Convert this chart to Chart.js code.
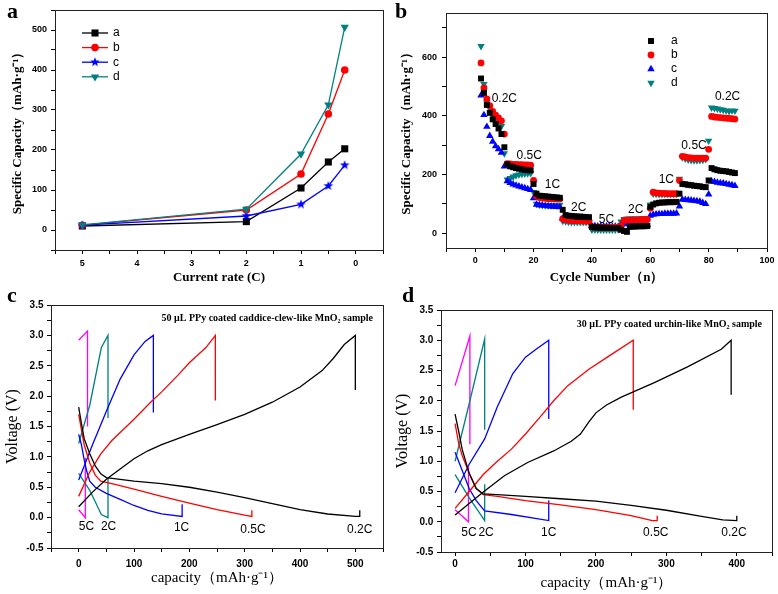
<!DOCTYPE html>
<html>
<head>
<meta charset="utf-8">
<script src="https://cdn.jsdelivr.net/npm/chart.js@4.4.0/dist/chart.umd.min.js"></script>
<style>
  body { margin: 0; background: #fff; width: 778px; height: 594px; position: relative; overflow: hidden; }
  canvas { position: absolute; }
  .tag { position: absolute; font: bold 22px "Liberation Serif", "Times New Roman", serif; line-height: 22px; color: #000; }
</style>
</head>
<body>
<canvas id="chart-a" width="389" height="290" style="left:0;top:0"></canvas>
<canvas id="chart-b" width="389" height="290" style="left:389px;top:0"></canvas>
<canvas id="chart-c" width="389" height="304" style="left:0;top:290px"></canvas>
<canvas id="chart-d" width="389" height="304" style="left:389px;top:290px"></canvas>
<div class="tag" style="left:7px;top:0">a</div>
<div class="tag" style="left:395px;top:0">b</div>
<div class="tag" style="left:7px;top:284px">c</div>
<div class="tag" style="left:402px;top:284px">d</div>
<script>
// ---- panel a: capacity vs current rate ----
const aRates = [5, 2, 1, 0.5, 0.2];
const aValsA = [10, 21, 105, 170, 203];
const aValsB = [12, 50, 140, 290, 400];
const aValsC = [12, 35, 64, 110, 162];
const aValsD = [13, 52, 190, 313, 507];
const aXLabels = [0, 1, 2, 3, 4, 5];
const aYLabels = [0, 100, 200, 300, 400, 500];

// ---- panel b: rate cycling (cycles 2..89) ----
const bFirstCycle = 2;
const bValsA = [527,478,437,410,388,372,357,338,293,235,228,225,222,220,218,216,215,214,168,135,128,127,126,125,124,123,122,121,80,62,60,59,58,57,57,56,55,55,22,20,20,19,19,19,18,18,18,18,12,8,5,22,23,23,24,24,24,25,90,98,102,104,105,105,106,106,106,107,135,168,167,165,164,162,161,160,158,157,180,222,218,215,213,212,211,209,207,205];
const bValsB = [580,495,458,435,415,402,393,383,338,237,236,235,235,234,234,233,233,232,180,127,122,120,119,118,118,117,117,117,50,46,45,44,44,43,43,42,42,42,22,21,21,21,20,20,20,20,20,20,25,44,45,45,46,46,46,47,47,47,85,140,138,137,136,136,135,135,135,135,180,262,260,258,257,256,256,256,256,256,286,398,396,395,394,393,392,391,390,389];
const bValsC = [470,403,363,332,312,297,287,275,228,178,172,167,163,160,157,154,151,148,120,98,96,95,94,93,92,91,90,89,50,44,43,42,42,41,41,40,40,40,25,25,24,24,24,24,24,23,23,23,28,32,31,31,30,30,30,29,29,29,60,64,65,66,66,67,67,67,67,68,92,115,114,113,112,111,110,108,104,100,133,177,175,173,171,170,168,166,164,162];
const bValsD = [637,508,445,425,402,393,380,365,272,183,188,193,197,200,202,203,204,205,140,100,97,96,95,95,95,95,96,97,42,40,39,38,38,38,38,38,38,38,12,12,12,12,12,12,12,12,12,13,40,48,50,50,50,50,50,50,50,51,98,135,134,133,133,133,133,133,133,134,185,258,254,251,249,248,248,249,250,252,315,428,426,424,422,420,418,416,418,417];
const bRateText = ['0.2C', '0.5C', '1C', '2C', '5C', '2C', '1C', '0.5C', '0.2C'];
const bRateX = [10, 18.5, 26.5, 35.5, 45, 55, 65.5, 75, 86.5];
const bRateY = [457, 263, 167, 88, 48, 82, 181, 298, 465];
const bXLabels = [0, 20, 40, 60, 80, 100];
const bYLabels = [0, 200, 400, 600];

// ---- panel c: charge / discharge curves, 50 uL sample ----
const cDis02 = [[0,1.82],[5,1.55],[10,1.3],[20,1.05],[30,0.85],[40,0.72],[50,0.66],[100,0.6],[150,0.56],[200,0.5],[250,0.42],[300,0.33],[350,0.23],[400,0.13],[450,0.06],[500,0.02],[508,0.02],[508,0.12]];
const cCh02 = [[0,0.18],[25,0.42],[50,0.63],[75,0.8],[100,0.97],[125,1.1],[150,1.2],[200,1.37],[250,1.53],[300,1.7],[350,1.9],[400,2.15],[440,2.42],[460,2.62],[480,2.85],[500,3.0],[500,2.1]];
const cDis05 = [[0,1.7],[5,1.45],[10,1.2],[20,0.9],[30,0.7],[40,0.6],[60,0.56],[100,0.47],[150,0.35],[200,0.24],[250,0.13],[300,0.04],[313,0.02],[313,0.12]];
const cCh05 = [[0,0.35],[20,0.75],[40,1.05],[60,1.27],[100,1.62],[130,1.9],[150,2.07],[180,2.35],[200,2.55],[230,2.8],[247,3.0],[247,1.93]];
const cDis1 = [[0,1.37],[5,1.2],[10,0.95],[15,0.75],[20,0.6],[30,0.5],[50,0.4],[75,0.3],[100,0.2],[125,0.12],[150,0.06],[187,0.02],[187,0.22]];
const cCh1 = [[0,0.62],[10,0.85],[25,1.2],[50,1.75],[75,2.28],[100,2.68],[120,2.9],[135,3.0],[135,1.73]];
const cDis2 = [[0,0.73],[20,0.45],[41,0.05],[53,0.0],[53,0.65]];
const cCh2 = [[0,1.22],[20,1.85],[41,2.8],[53,3.0],[53,1.64]];
const cDis5 = [[0,0.13],[12,0.0],[12,0.98]];
const cCh5 = [[0,2.92],[16,3.07],[16,1.5]];
const cRateText = ['5C', '2C', '1C', '0.5C', '0.2C'];
const cRateX = [14, 54, 186, 315, 508];
const cRateY = [-0.15, -0.15, -0.17, -0.2, -0.2];

// ---- panel d: charge / discharge curves, 30 uL sample ----
const dDis02 = [[0,1.78],[5,1.5],[10,1.2],[20,0.8],[30,0.55],[40,0.46],[60,0.45],[100,0.42],[150,0.38],[200,0.34],[250,0.27],[300,0.19],[350,0.09],[380,0.03],[400,0.02],[400,0.1]];
const dCh02 = [[0,0.11],[20,0.3],[41,0.5],[70,0.76],[103,0.98],[140,1.17],[165,1.33],[178,1.45],[190,1.65],[200,1.8],[215,1.93],[236,2.06],[283,2.3],[330,2.56],[378,2.85],[392,3.0],[392,2.1]];
const dDis05 = [[0,1.62],[5,1.3],[10,1.1],[20,0.8],[30,0.55],[40,0.45],[60,0.42],[100,0.35],[150,0.28],[200,0.2],[250,0.1],[280,0.02],[287,0.02],[287,0.1]];
const dCh05 = [[0,0.22],[20,0.5],[40,0.78],[60,1.0],[80,1.2],[100,1.45],[120,1.72],[140,2.0],[160,2.25],[190,2.52],[220,2.75],[253,3.0],[253,1.85]];
const dDis1 = [[0,1.15],[10,0.85],[20,0.55],[30,0.35],[42,0.18],[80,0.12],[133,0.02],[133,0.35]];
const dCh1 = [[0,0.48],[20,0.95],[42,1.37],[60,1.9],[82,2.45],[100,2.72],[115,2.85],[133,3.0],[133,1.7]];
const dDis2 = [[0,0.78],[20,0.4],[42,0.02],[42,0.62]];
const dCh2 = [[0,1.0],[20,1.95],[42,3.02],[42,1.52]];
const dDis5 = [[0,0.2],[19,0.0],[19,0.9]];
const dCh5 = [[0,2.25],[21,3.07],[21,1.28]];
const dRateText = ['5C', '2C', '1C', '0.5C', '0.2C'];
const dRateX = [19.6, 44, 133, 285, 396];
const dRateY = [-0.18, -0.18, -0.18, -0.18, -0.18];
const vLabels = [-0.5, 0, 0.5, 1, 1.5, 2, 2.5, 3, 3.5];

const SANS = '"Liberation Sans", Arial, sans-serif';
const SERIF = '"Liberation Serif", "Times New Roman", serif';
const TEAL = '#008080';

Chart.defaults.font.family = SANS;
Chart.defaults.color = '#000';

function starImg(color, r) {
  const c = document.createElement('canvas');
  const s = Math.ceil(r * 2 + 2);
  c.width = c.height = s;
  const g = c.getContext('2d');
  g.fillStyle = color;
  g.beginPath();
  for (let i = 0; i < 10; i++) {
    const rad = i % 2 ? r * 0.42 : r;
    const ang = -Math.PI / 2 + i * Math.PI / 5;
    g.lineTo(s / 2 + rad * Math.cos(ang), s / 2 + rad * Math.sin(ang));
  }
  g.closePath();
  g.fill();
  return c;
}

// legend marker, same shapes as Chart.js point styles
function marker(ctx, style, rot, x, y, r, color) {
  ctx.fillStyle = color;
  if (style instanceof HTMLCanvasElement) { ctx.drawImage(style, x - style.width / 2, y - style.height / 2); return; }
  ctx.beginPath();
  if (style === 'rect') {
    const s = r * Math.SQRT1_2;
    ctx.rect(x - s, y - s, 2 * s, 2 * s);
  } else if (style === 'circle') {
    ctx.arc(x, y, r, 0, Math.PI * 2);
  } else {
    let a = (rot || 0) * Math.PI / 180;
    for (let i = 0; i < 3; i++) {
      ctx.lineTo(x + Math.sin(a) * r, y - Math.cos(a) * r);
      a += Math.PI * 2 / 3;
    }
    ctx.closePath();
  }
  ctx.fill();
}

function tickList(min, max, step) {
  const out = [];
  for (let v = Math.ceil(min / step - 1e-9) * step; v <= max + 1e-9; v += step) out.push({ value: +v.toFixed(4) });
  return out;
}

function axis(o) {
  return {
    type: 'linear', min: o.min, max: o.max, reverse: !!o.reverse,
    afterBuildTicks: s => { s.ticks = tickList(o.min, o.max, o.step); },
    afterFit: s => { if (o.w) s.width = o.w; if (o.h) s.height = o.h; },
    grid: { drawOnChartArea: false, color: '#000', tickColor: '#000', tickLength: 4, tickWidth: 1 },
    border: { color: '#222', width: 1 },
    ticks: {
      color: '#000', autoSkip: false, maxRotation: 0, padding: o.pad,
      font: { family: SANS, size: o.tickSize, weight: 'bold' },
      callback: v => o.labels.some(l => Math.abs(l - v) < 1e-6) ? o.fmt(v) : ''
    },
    title: { display: true, text: o.title, color: '#000', font: o.titleFont, padding: o.titlePad }
  };
}

const frame = {
  id: 'frame',
  afterDraw(chart) {
    const { ctx, chartArea: a } = chart;
    ctx.save();
    ctx.strokeStyle = '#222';
    ctx.lineWidth = 1;
    ctx.strokeRect(Math.round(a.left) + 0.5, Math.round(a.top) + 0.5, Math.round(a.right - a.left), Math.round(a.bottom - a.top));
    ctx.restore();
  }
};

// text placed at data coordinates
function notes(texts, xs, ys, font) {
  return {
    id: 'notes',
    afterDatasetsDraw(chart) {
      const { ctx, scales: { x, y } } = chart;
      ctx.save();
      ctx.font = font;
      ctx.fillStyle = '#000';
      ctx.textAlign = 'center';
      ctx.textBaseline = 'middle';
      texts.forEach((t, i) => ctx.fillText(t, x.getPixelForValue(xs[i]), y.getPixelForValue(ys[i])));
      ctx.restore();
    }
  };
}

function legend(items, opts) {
  return {
    id: 'legendBox',
    afterDraw(chart) {
      const ctx = chart.ctx;
      ctx.save();
      ctx.font = '12px ' + SANS;
      ctx.textBaseline = 'middle';
      items.forEach((it, i) => {
        const y = opts.y0 + i * opts.dy;
        if (opts.line) {
          ctx.strokeStyle = it.color; ctx.lineWidth = 1.3;
          ctx.beginPath(); ctx.moveTo(opts.x0, y); ctx.lineTo(opts.x1, y); ctx.stroke();
        }
        marker(ctx, it.style, it.rot, opts.mx, y, it.r, it.color);
        ctx.fillStyle = '#000';
        ctx.fillText(it.label, opts.tx, y);
      });
      ctx.restore();
    }
  };
}

const boldTitle = { family: SERIF, size: 13, weight: 'bold' };
const capTitle = 'Specific Capacity（mAh·g⁻¹）';

// ---------- a ----------
const blueStarA = starImg('#0000ff', 5);
const aSeries = [
  { label: 'a', vals: aValsA, color: '#000', style: 'rect', r: 5 },
  { label: 'b', vals: aValsB, color: '#ff0000', style: 'circle', r: 3.8 },
  { label: 'c', vals: aValsC, color: '#0000ff', style: blueStarA, r: 5 },
  { label: 'd', vals: aValsD, color: TEAL, style: 'triangle', rot: 180, r: 4.8 }
];
new Chart(document.getElementById('chart-a'), {
  type: 'scatter',
  data: {
    datasets: aSeries.map(s => ({
      label: s.label,
      data: aRates.map((x, i) => ({ x, y: s.vals[i] })),
      showLine: true, borderColor: s.color, borderWidth: 1.3,
      pointStyle: s.style, pointRotation: s.rot || 0, pointRadius: s.r,
      pointBackgroundColor: s.color, pointBorderWidth: 0
    })).reverse()
  },
  options: {
    responsive: false, animation: false, devicePixelRatio: 1,
    layout: { padding: { left: 0, right: 6, top: 10, bottom: 1 } },
    plugins: { legend: { display: false }, tooltip: { enabled: false } },
    scales: {
      x: axis({ min: -0.5, max: 5.5, reverse: true, step: 0.5, labels: aXLabels, fmt: v => String(v), h: 39, pad: 4, tickSize: 9,
        title: 'Current rate (C)', titleFont: boldTitle, titlePad: { top: 2, bottom: 4 } }),
      y: axis({ min: -50, max: 550, step: 50, labels: aYLabels, fmt: v => String(v), w: 55, pad: 4, tickSize: 9,
        title: capTitle, titleFont: boldTitle, titlePad: { top: 10, bottom: 2 } })
    }
  },
  plugins: [frame, legend(aSeries, { line: true, x0: 82, x1: 108, mx: 95, tx: 113, y0: 33, dy: 14.6 })]
});

// ---------- b ----------
const bSeries = [
  { label: 'a', vals: bValsA, color: '#000', style: 'rect', r: 4.2 },
  { label: 'b', vals: bValsB, color: '#ff0000', style: 'circle', r: 3.4 },
  { label: 'c', vals: bValsC, color: '#0000ff', style: 'triangle', r: 4.3 },
  { label: 'd', vals: bValsD, color: TEAL, style: 'triangle', rot: 180, r: 4.3 }
];
new Chart(document.getElementById('chart-b'), {
  type: 'scatter',
  data: {
    datasets: bSeries.map(s => ({
      label: s.label,
      data: s.vals.map((v, i) => ({ x: bFirstCycle + i, y: v })),
      pointStyle: s.style, pointRotation: s.rot || 0, pointRadius: s.r,
      pointBackgroundColor: s.color, pointBorderWidth: 0
    }))
  },
  options: {
    responsive: false, animation: false, devicePixelRatio: 1,
    layout: { padding: { left: 0, right: 11, top: 13, bottom: 0 } },
    plugins: { legend: { display: false }, tooltip: { enabled: false } },
    scales: {
      x: axis({ min: -10, max: 100, step: 10, labels: bXLabels, fmt: v => String(v), h: 42, pad: 3, tickSize: 9,
        title: 'Cycle Number（n）', titleFont: boldTitle, titlePad: { top: 2, bottom: 4.5 } }),
      y: axis({ min: -50, max: 750, step: 100, labels: bYLabels, fmt: v => String(v), w: 57, pad: 5, tickSize: 9,
        title: capTitle, titleFont: boldTitle, titlePad: { top: 9.5, bottom: 2 } })
    }
  },
  plugins: [frame, notes(bRateText, bRateX, bRateY, '12px ' + SANS),
    legend(bSeries, { line: false, mx: 262, tx: 282, y0: 41, dy: 14 })]
});

// ---------- c / d ----------
function curveSets(list) {
  return list.map(c => ({
    data: c.pts.map(p => ({ x: p[0], y: p[1] })),
    showLine: true, borderColor: c.color, borderWidth: 1.3, pointRadius: 0, tension: 0
  }));
}

function subtitle(text, dx, dy) {
  return {
    id: 'subtitle',
    afterDraw(chart) {
      const { ctx, chartArea: a } = chart;
      ctx.save();
      ctx.font = 'bold 10px ' + SERIF;
      ctx.fillStyle = '#000';
      ctx.textAlign = 'right';
      ctx.textBaseline = 'middle';
      ctx.fillText(text, a.right - dx, a.top + dy);
      ctx.restore();
    }
  };
}

const vTitle = { family: SERIF, size: 16 };
const qTitle = { family: SERIF, size: 15 };

new Chart(document.getElementById('chart-c'), {
  type: 'scatter',
  data: {
    datasets: curveSets([
      { pts: cDis02, color: '#000' }, { pts: cCh02, color: '#000' },
      { pts: cDis05, color: '#ff0000' }, { pts: cCh05, color: '#ff0000' },
      { pts: cDis1, color: '#0000ff' }, { pts: cCh1, color: '#0000ff' },
      { pts: cDis2, color: TEAL }, { pts: cCh2, color: TEAL },
      { pts: cDis5, color: '#ff00ff' }, { pts: cCh5, color: '#ff00ff' }
    ])
  },
  options: {
    responsive: false, animation: false, devicePixelRatio: 1,
    layout: { padding: { left: 0, right: 6, top: 15, bottom: 3 } },
    plugins: { legend: { display: false }, tooltip: { enabled: false } },
    scales: {
      x: axis({ min: -50, max: 550, step: 50, labels: [0, 100, 200, 300, 400, 500], fmt: v => String(v), h: 43, pad: 6, tickSize: 10,
        title: 'capacity（mAh·g⁻¹）', titleFont: qTitle, titlePad: { top: 2, bottom: 4 } }),
      y: axis({ min: -0.5, max: 3.5, step: 0.25, labels: vLabels, fmt: v => v.toFixed(1), w: 51, pad: 3.5, tickSize: 10,
        title: 'Voltage (V)', titleFont: vTitle, titlePad: { top: 3.4, bottom: 2 } })
    }
  },
  plugins: [frame, notes(cRateText, cRateX, cRateY, '12px ' + SANS),
    subtitle('50 μL PPy coated caddice-clew-like MnO₂ sample', 10, 13)]
});

new Chart(document.getElementById('chart-d'), {
  type: 'scatter',
  data: {
    datasets: curveSets([
      { pts: dDis02, color: '#000' }, { pts: dCh02, color: '#000' },
      { pts: dDis05, color: '#ff0000' }, { pts: dCh05, color: '#ff0000' },
      { pts: dDis1, color: '#0000ff' }, { pts: dCh1, color: '#0000ff' },
      { pts: dDis2, color: TEAL }, { pts: dCh2, color: TEAL },
      { pts: dDis5, color: '#ff00ff' }, { pts: dCh5, color: '#ff00ff' }
    ])
  },
  options: {
    responsive: false, animation: false, devicePixelRatio: 1,
    layout: { padding: { left: 0, right: 6, top: 20, bottom: 1 } },
    plugins: { legend: { display: false }, tooltip: { enabled: false } },
    scales: {
      x: axis({ min: -20, max: 450, step: 50, labels: [0, 100, 200, 300, 400], fmt: v => String(v), h: 41, pad: 2, tickSize: 10,
        title: 'capacity（mAh·g⁻¹）', titleFont: qTitle, titlePad: { top: 2, bottom: 1.3 } }),
      y: axis({ min: -0.5, max: 3.5, step: 0.25, labels: vLabels, fmt: v => v.toFixed(1), w: 52, pad: 3.6, tickSize: 10,
        title: 'Voltage (V)', titleFont: vTitle, titlePad: { top: 4.4, bottom: 2 } })
    }
  },
  plugins: [frame, notes(dRateText, dRateX, dRateY, '12px ' + SANS),
    subtitle('30 μL PPy coated urchin-like MnO₂ sample', 10, 14)]
});
</script>
</body>
</html>
